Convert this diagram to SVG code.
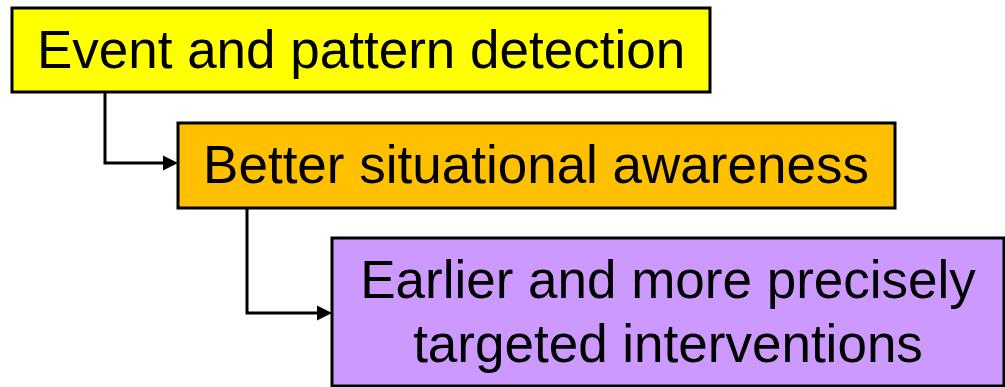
<svg xmlns="http://www.w3.org/2000/svg" width="1005" height="387" viewBox="0 0 1005 387">
<style>
.box{stroke:#000;stroke-width:3}
.t{font-family:"Liberation Sans",Arial,sans-serif;font-size:53px;fill:#000;text-anchor:middle}
.c{fill:none;stroke:#000;stroke-width:3}
.ah{fill:#000;stroke:none}
</style>
<defs>
<path id="arrow" class="ah" d="M-15,-7.5 L0,0 L-15,7.5 z"/>
</defs>
<g id="connectors">
<path class="c" d="M105,92 V163 H165"/>
<use href="#arrow" x="178" y="163"/>
<path class="c" d="M247,208 V313 H319"/>
<use href="#arrow" x="332" y="313"/>
</g>
<g id="n1">
<rect class="box" x="12" y="8" width="698" height="84" fill="#FFFF00"/>
<text class="t" x="361" y="68">Event and pattern detection</text>
</g>
<g id="n2">
<rect class="box" x="178" y="123" width="717" height="85" fill="#FFC000"/>
<text class="t" x="536" y="183">Better situational awareness</text>
</g>
<g id="n3">
<rect class="box" x="332" y="238" width="672" height="148" fill="#CC99FF"/>
<text class="t" x="668" y="298">Earlier and more precisely</text>
<text class="t" x="668" y="362">targeted interventions</text>
</g>
</svg>
